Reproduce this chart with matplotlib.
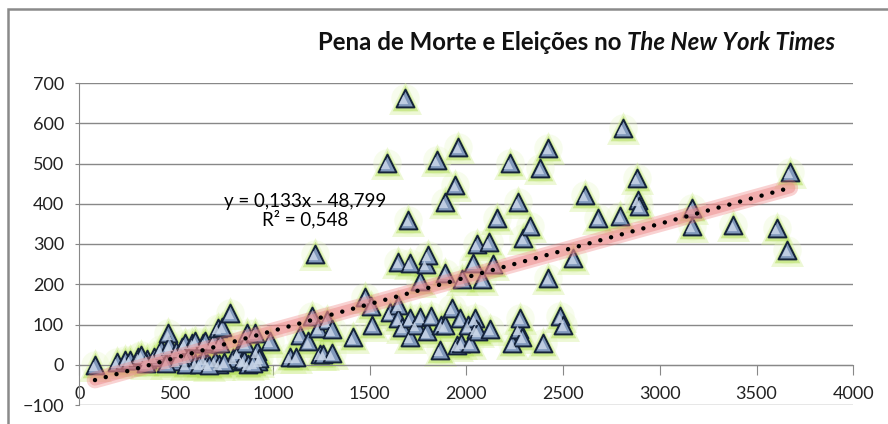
import matplotlib
matplotlib.use("Agg")
import matplotlib.pyplot as plt
import numpy as np
from matplotlib.patches import Rectangle

# Data
xs = [81, 195, 237, 260, 304, 350, 320, 385, 417, 420, 459, 460, 465, 500, 531,
      545, 583, 600, 640, 650, 690, 694, 717, 727, 738, 780, 795, 820, 840, 850,
      866, 858, 908, 917, 925, 930, 985, 500, 560, 600, 640, 660, 700, 720, 750,
      450, 550, 620, 670, 870, 900, 345, 520,
      1088, 1122, 1140, 1183, 1203, 1218, 1236, 1243, 1262, 1280, 1305, 1305,
      1414, 1477, 1510, 1513,
      1590, 1605, 1648, 1648, 1648, 1670, 1683, 1699, 1709, 1709, 1709, 1740,
      1761, 1761, 1790, 1802, 1796, 1820, 1848, 1864, 1870, 1890, 1890, 1891,
      1925, 1942, 1950, 1958, 1970, 1975, 1978,
      2010, 2020, 2035, 2045, 2050, 2055, 2060, 2083, 2117, 2125, 2140, 2159,
      2226, 2237, 2267, 2270, 2279, 2290, 2295, 2330, 2382, 2397, 2423, 2423,
      2485, 2500,
      2552, 2613, 2681, 2795, 2810, 2882, 2887, 2895, 3166, 3166, 3379, 3605,
      3658, 3672]
ys = [0, 8, 13, 13, 20, 15, 25, 20, 30, 40, 40, 78, 50, 35, 45,
      55, 55, 60, 55, 58, 55, 60, 92, 55, 95, 128, 18, 30, 10, 12,
      78, 55, 80, 33, 10, 18, 60, 10, 20, 5, 15, 5, 10, 3, 8,
      5, 3, 2, 0, 2, 5, 5, 20,
      20, 20, 75, 58, 122, 275, 92, 26, 26, 110, 88, 28,
      68, 168, 145, 100,
      502, 130, 256, 148, 115, 95, 663, 360, 253, 115, 70, 100,
      207, 118, 250, 273, 83, 120, 509, 37, 100, 405, 98, 229,
      142, 447, 50, 542, 115, 55, 212,
      98, 55, 253, 115, 90, 300, 85, 212, 306, 90, 250, 365,
      502, 55, 405, 90, 117, 70, 316, 345, 489, 55, 539, 215,
      120, 100,
      266, 422, 365, 370, 589, 465, 410, 395, 390, 345, 348, 340,
      286, 480]

slope = 0.133
intercept = -48.799
eq_label = "y = 0,133x - 48,799"
r2_label = "R\u00b2 = 0,548"
x_ticks = [0, 500, 1000, 1500, 2000, 2500, 3000, 3500, 4000]
y_ticks = [-100, 0, 100, 200, 300, 400, 500, 600, 700]

plt.rcParams["font.family"] = ["Lato", "DejaVu Sans"]

fig = plt.figure(figsize=(8.88, 4.24), dpi=100)
ax = fig.add_axes([79.3 / 888, 1 - 405 / 424, (853.3 - 79.3) / 888, (405 - 83) / 424])

# outer chart frame
fig.patches.append(Rectangle((8 / 888, -0.05), 1.1, 1.05 - 9 / 424, transform=fig.transFigure,
                             fill=False, edgecolor="#8a8a8a", linewidth=1.8))

# markers with green glow (a few soft layers)
ax.scatter(xs, ys, marker="o", s=420, color="#eaf8cc", alpha=0.35, linewidths=0, zorder=2)
ax.scatter(xs, ys, marker="^", s=560, color="#d2ef96", alpha=0.4, linewidths=0, zorder=2)
ax.scatter(xs, ys, marker="^", s=340, color="#b3de5c", alpha=0.55, linewidths=0, zorder=2)
ax.scatter(xs, ys, marker="^", s=165, facecolor="#8199bb", edgecolor="#14223a",
           linewidths=1.4, zorder=3)
ax.scatter(np.array(xs) - 8, np.array(ys) - 3, marker="^", s=45, color="#c9d6e8",
           linewidths=0, zorder=3, alpha=0.85)

# trendline
tx = np.array([min(xs), max(xs)])
ty = slope * tx + intercept
ax.plot(tx, ty, color="#f08080", lw=12, alpha=0.35, solid_capstyle="round", zorder=4)
ax.plot(tx, ty, color="#ec8c8c", lw=8, alpha=0.5, solid_capstyle="round", zorder=4)
ax.plot(tx, ty, color="black", lw=3.2, linestyle=(0, (0.01, 2.5)),
        dash_capstyle="round", zorder=5)

ax.text(1166, 405, eq_label, ha="center", va="center", fontsize=13.5, zorder=6)
ax.text(1166, 363, r2_label, ha="center", va="center", fontsize=13.5, zorder=6)

ax.set_xlim(0, 4000)
ax.set_ylim(-100, 700)
ax.set_xticks(x_ticks)
ax.set_yticks(y_ticks)
ax.grid(axis="y", color="#888888", lw=1)
ax.set_axisbelow(True)
for s in ["top", "right"]:
    ax.spines[s].set_visible(False)
ax.spines["bottom"].set_position(("data", 0))
ax.spines["bottom"].set_color("#888888")
ax.spines["left"].set_color("#888888")
ax.tick_params(axis="x", length=7, color="#888888", pad=8, labelsize=13, labelcolor="#222222")
ax.tick_params(axis="y", length=3, color="#888888", pad=8, labelsize=13, labelcolor="#222222")

# title: regular bold part + italic part
t1 = fig.text(318 / 888, 1 - 50 / 424, "Pena de Morte e Elei\u00e7\u00f5es no ",
              fontsize=17.3, fontweight="bold", va="baseline", color="#111111")
fig.canvas.draw()
bb = t1.get_window_extent(renderer=fig.canvas.get_renderer())
fig.text(bb.x1 / 888, 1 - 50 / 424, "The New York Times", fontsize=17.3, fontweight="bold",
         style="italic", va="baseline", color="#111111")

fig.savefig("out.png", dpi=100)
